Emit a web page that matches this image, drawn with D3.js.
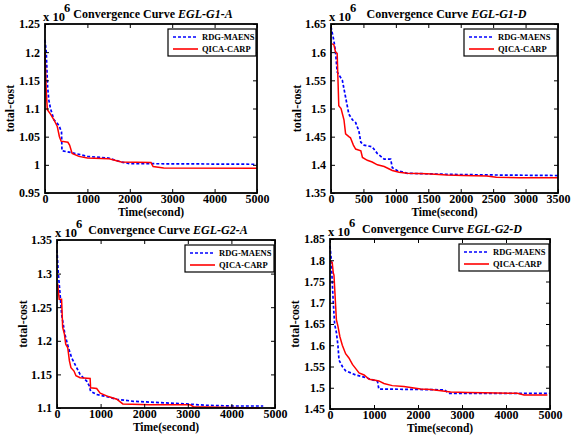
<!DOCTYPE html>
<html><head><meta charset="utf-8">
<script src="https://cdn.jsdelivr.net/npm/d3@7/dist/d3.min.js"></script>
<style>body{margin:0;background:#fff}svg{display:block}text{font-family:"Liberation Serif","Times New Roman",serif;font-weight:bold}</style>
</head><body><svg id="c" width="574" height="435"></svg>
<script>
// ---- data ----
const seriesNames = ["RDG-MAENS", "QICA-CARP"];
const titles = ["EGL-G1-A", "EGL-G1-D", "EGL-G2-A", "EGL-G2-D"];
const xDomains = [[0, 5000], [0, 3500], [0, 5000], [0, 5000]];
const yDomains = [[0.95, 1.25], [1.35, 1.65], [1.1, 1.35], [1.45, 1.85]];
const xTicks = [[0,1000,2000,3000,4000,5000],[0,500,1000,1500,2000,2500,3000,3500],[0,1000,2000,3000,4000,5000],[0,1000,2000,3000,4000,5000]];
const yTicks = [[0.95,1,1.05,1.1,1.15,1.2,1.25],[1.35,1.4,1.45,1.5,1.55,1.6,1.65],[1.1,1.15,1.2,1.25,1.3,1.35],[1.45,1.5,1.55,1.6,1.65,1.7,1.75,1.8,1.85]];

const g1aRDG = [[0,1.222],[30,1.2],[60,1.14],[90,1.115],[130,1.1],[210,1.08],[330,1.07],[390,1.058],[400,1.025],[600,1.022],[830,1.018],[1000,1.015],[1500,1.012],[1800,1.005],[2000,1.002],[2500,1.002],[5000,1.001]];
const g1aQICA = [[0,1.2],[30,1.13],[55,1.098],[130,1.09],[210,1.08],[290,1.068],[340,1.05],[380,1.042],[540,1.04],[580,1.035],[640,1.02],[800,1.015],[1000,1.012],[1500,1.011],[1600,1.009],[1800,1.005],[2500,1.004],[2550,0.997],[2800,0.9945],[5000,0.994]];
const g1dRDG = [[0,1.645],[45,1.62],[70,1.6],[95,1.565],[175,1.55],[225,1.52],[275,1.49],[330,1.48],[380,1.475],[430,1.46],[460,1.44],[510,1.435],[635,1.432],[715,1.42],[820,1.41],[920,1.41],[945,1.395],[1020,1.39],[1175,1.385],[1850,1.383],[2500,1.382],[3500,1.381]];
const g1dQICA = [[20,1.615],[45,1.613],[70,1.6],[95,1.598],[120,1.505],[155,1.5],[200,1.48],[225,1.455],[275,1.45],[300,1.448],[345,1.435],[380,1.428],[460,1.425],[485,1.413],[560,1.408],[635,1.405],[715,1.4],[820,1.397],[945,1.39],[1050,1.387],[1175,1.385],[1480,1.384],[1785,1.382],[2040,1.381],[2400,1.38],[2550,1.378],[2910,1.377],[3500,1.377]];
const g2aRDG = [[0,1.335],[30,1.3],[70,1.27],[105,1.24],[180,1.21],[260,1.19],[335,1.175],[450,1.16],[530,1.15],[605,1.145],[680,1.14],[740,1.133],[770,1.125],[910,1.12],[1140,1.117],[1370,1.113],[1750,1.11],[2360,1.108],[2970,1.106],[3430,1.104],[4040,1.103],[4730,1.103]];
const g2aQICA = [[15,1.285],[50,1.262],[105,1.262],[130,1.22],[170,1.21],[200,1.195],[245,1.19],[285,1.17],[320,1.16],[390,1.155],[435,1.148],[530,1.145],[760,1.144],[770,1.13],[910,1.129],[990,1.122],[1180,1.117],[1370,1.113],[1510,1.106],[2130,1.105],[3050,1.105],[3130,1.102],[3660,1.101],[4650,1.1]];
const g2dRDG = [[0,1.834],[30,1.8],[50,1.75],[75,1.7],[105,1.65],[145,1.63],[180,1.6],[205,1.565],[280,1.55],[355,1.54],[470,1.535],[585,1.53],[775,1.525],[925,1.52],[1080,1.515],[1110,1.497],[2000,1.496],[2600,1.495],[2700,1.487],[5000,1.487]];
const g2dQICA = [[0,1.798],[50,1.795],[75,1.77],[90,1.765],[145,1.66],[180,1.645],[225,1.62],[280,1.6],[355,1.58],[430,1.57],[510,1.555],[585,1.545],[660,1.535],[775,1.53],[890,1.52],[1000,1.518],[1110,1.516],[1225,1.51],[1415,1.505],[1680,1.503],[1870,1.5],[2060,1.497],[2290,1.496],[2520,1.493],[2740,1.49],[3120,1.489],[3500,1.488],[4260,1.487],[4410,1.483],[4940,1.483]];
const panelSeries = [[g1aRDG, g1aQICA], [g1dRDG, g1dQICA], [g2aRDG, g2aQICA], [g2dRDG, g2dQICA]];

// ---- layout ----
const boxes = [
  {l:45, r:257, t:24, b:193, legX:168, ylab:14},
  {l:331, r:558, t:24, b:193, legX:464, ylab:301},
  {l:57, r:275, t:240, b:408, legX:185, ylab:27},
  {l:330, r:550, t:239, b:409, legX:459, ylab:299}
];
const colors = ["#0000ff", "#ff0000"];
const svg = d3.select("#c");

boxes.forEach((bx, i) => {
  const x = d3.scaleLinear().domain(xDomains[i]).range([bx.l, bx.r]);
  const y = d3.scaleLinear().domain(yDomains[i]).range([bx.b, bx.t]);
  const g = svg.append("g");
  const line = d3.line().x(d => x(d[0])).y(d => y(d[1]));
  // series
  panelSeries[i].forEach((s, k) => {
    g.append("path").attr("d", line(s)).attr("fill", "none")
      .attr("stroke", colors[k]).attr("stroke-width", k === 0 ? 1.7 : 1.5)
      .attr("stroke-dasharray", k === 0 ? "3,2" : null);
  });
  // axes (ticks inward)
  const fmt = d => String(d);
  g.append("g").attr("transform", `translate(0,${bx.b})`)
    .call(d3.axisBottom(x).tickValues(xTicks[i]).tickSize(-4).tickPadding(1.5).tickFormat(fmt));
  g.append("g").attr("transform", `translate(${bx.l},0)`)
    .call(d3.axisLeft(y).tickValues(yTicks[i]).tickSize(-4).tickPadding(5).tickFormat(fmt));
  g.append("g").attr("transform", `translate(0,${bx.t})`)
    .call(d3.axisTop(x).tickValues(xTicks[i]).tickSize(-4).tickFormat(""));
  g.append("g").attr("transform", `translate(${bx.r},0)`)
    .call(d3.axisRight(y).tickValues(yTicks[i]).tickSize(-4).tickFormat(""));
  g.selectAll(".domain").remove();
  g.selectAll(".tick line").attr("stroke", "#000").attr("stroke-width", 1);
  g.selectAll(".tick text").attr("font-size", 12).attr("font-weight", "bold")
    .attr("font-family", '"Liberation Serif", serif').attr("fill", "#000");
  g.append("rect").attr("x", bx.l).attr("y", bx.t).attr("width", bx.r - bx.l).attr("height", bx.b - bx.t)
    .attr("fill", "none").attr("stroke", "#000").attr("stroke-width", 1.8);
  // exponent
  g.append("text").attr("x", bx.l - 2).attr("y", bx.t - 3).attr("font-size", 12.5).text("x 10");
  g.append("text").attr("x", bx.l + 19).attr("y", bx.t - 12).attr("font-size", 12.5).text("6");
  // title
  const t = g.append("text").attr("x", (bx.l + bx.r) / 2 + 2).attr("y", bx.t - 6)
    .attr("text-anchor", "middle").attr("font-size", 12);
  t.append("tspan").text("Convergence Curve ");
  t.append("tspan").attr("font-style", "italic").text(titles[i]);
  // axis labels
  g.append("text").attr("x", (bx.l + bx.r) / 2).attr("y", bx.b + 23).attr("text-anchor", "middle")
    .attr("font-size", 11.5).text("Time(second)");
  g.append("text").attr("transform", `translate(${bx.ylab},${(bx.t + bx.b) / 2}) rotate(-90)`)
    .attr("text-anchor", "middle").attr("font-size", 12).text("total-cost");
  // legend
  const lx = bx.legX, ly = bx.t + 5, lw = bx.r - 1 - lx, lh = 27;
  g.append("rect").attr("x", lx).attr("y", ly).attr("width", lw).attr("height", lh)
    .attr("fill", "#fff").attr("stroke", "#000").attr("stroke-width", 1.2);
  seriesNames.forEach((nm, k) => {
    const yy = ly + 8 + k * 12;
    g.append("line").attr("x1", lx + 5).attr("x2", lx + 30).attr("y1", yy).attr("y2", yy)
      .attr("stroke", colors[k]).attr("stroke-width", 1.6).attr("stroke-dasharray", k === 0 ? "3,2" : null);
    g.append("text").attr("x", lx + 34).attr("y", yy + 3).attr("font-size", 8.5).text(nm);
  });
});
</script></body></html>
